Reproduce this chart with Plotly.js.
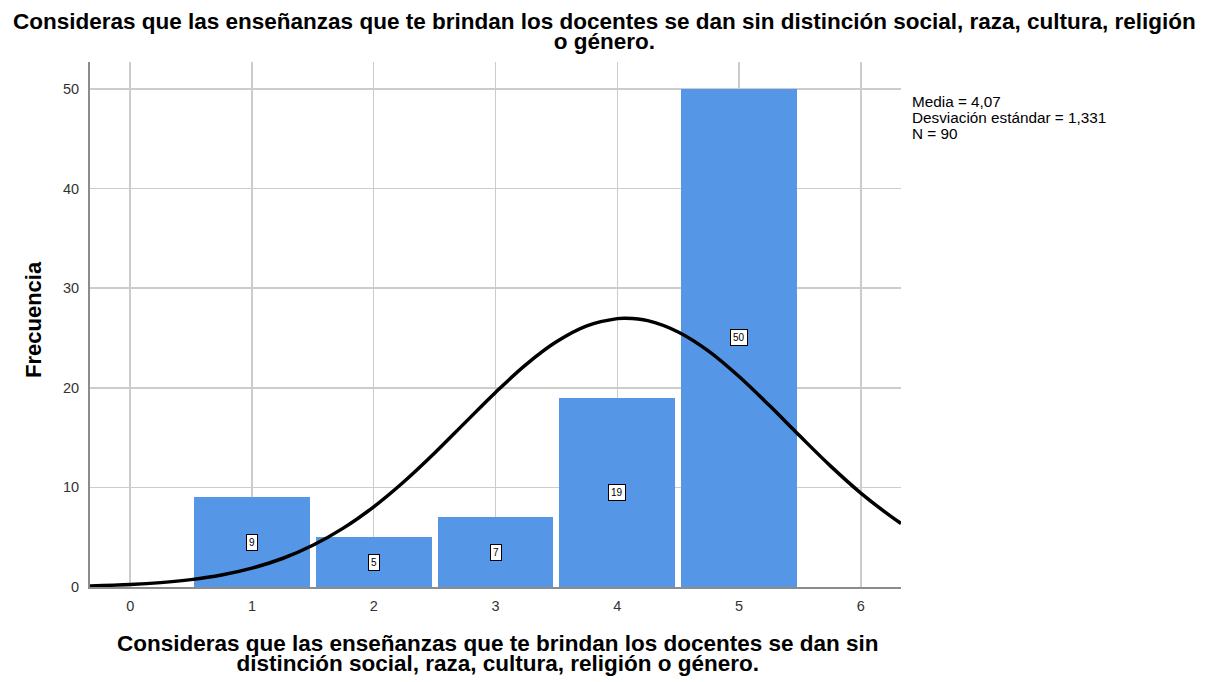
<!DOCTYPE html>
<html>
<head>
<meta charset="utf-8">
<script src="https://cdn.plot.ly/plotly-3.0.1.min.js"></script>
<style>html,body{margin:0;padding:0;background:#fff;}#chart{width:1209px;height:682px;}</style>
</head>
<body>
<div id="chart"></div>
<script>
// Histogram categories and frequencies
const categories = [1, 2, 3, 4, 5];
const frequencies = [9, 5, 7, 19, 50];
const barLabels = ["9", "5", "7", "19", "50"];

// Normal curve points
const curveX = [-0.33, 0, 0.25, 0.5, 0.75, 1, 1.25, 1.5, 1.75, 2, 2.25, 2.5, 2.75, 3, 3.25, 3.5, 3.75, 4, 4.07, 4.25, 4.5, 4.75, 5, 5.25, 5.5, 5.75, 6, 6.25, 6.33];
const curveY = [0.11, 0.25, 0.44, 0.74, 1.2, 1.89, 2.86, 4.19, 5.91, 8.05, 10.59, 13.45, 16.5, 19.53, 22.32, 24.61, 26.21, 26.94, 26.98, 26.74, 25.6, 23.68, 21.13, 18.21, 15.15, 12.16, 9.43, 7.06, 6.38];

const xTicks = [0, 1, 2, 3, 4, 5, 6];
const yTicks = [0, 10, 20, 30, 40, 50];
const statsLines = ["Media = 4,07", "Desviación estándar = 1,331", "N = 90"];

const titleLines = ["Consideras que las enseñanzas que te brindan los docentes se dan sin distinción social, raza, cultura, religión", "o género."];
const xTitleLines = ["Consideras que las enseñanzas que te brindan los docentes se dan sin", "distinción social, raza, cultura, religión o género."];
const yTitleText = "Frecuencia";

const font = "Liberation Sans, Arial, sans-serif";

// pixel helpers for annotation placement (plot area 90..901 x, 62..587 y)
const PL = 90, PR = 901, PT = 62, PB = 587;
const px = v => (v - PL) / (PR - PL);
const py = v => 1 - (v - PT) / (PB - PT);

const traces = [
  {
    type: "bar",
    x: categories,
    y: frequencies,
    width: 0.95,
    marker: {color: "#5596e6", line: {width: 0}},
    hoverinfo: "x+y"
  },
  {
    type: "scatter",
    mode: "lines",
    x: curveX,
    y: curveY,
    line: {color: "#000000", width: 3.5, shape: "spline"},
    hoverinfo: "skip"
  }
];

const annotations = categories.map((c, i) => ({
  x: c, y: frequencies[i] / 2, xref: "x", yref: "y",
  text: barLabels[i], showarrow: false,
  font: {family: font, size: 10, color: "#000"},
  bgcolor: "#ffffff", bordercolor: "#000000", borderwidth: 1, borderpad: 2
}));

const bold = {family: font, size: 22.5, color: "#000", weight: "bold"};

annotations.push({
  xref: "paper", yref: "paper", x: px(604), y: py(7),
  xanchor: "center", yanchor: "top", align: "center",
  text: titleLines.join("<br>"), showarrow: false, font: bold
});

annotations.push({
  xref: "paper", yref: "paper", x: px(497), y: py(629),
  xanchor: "center", yanchor: "top", align: "center",
  text: xTitleLines.join("<br>"), showarrow: false, font: bold
});

annotations.push({
  xref: "paper", yref: "paper", x: px(33), y: py(320),
  xanchor: "center", yanchor: "middle", textangle: -90,
  text: yTitleText, showarrow: false, font: {family: font, size: 22, color: "#000", weight: "bold"}
});

annotations.push({
  xref: "paper", yref: "paper", x: px(910), y: py(91),
  xanchor: "left", yanchor: "top", align: "left",
  text: statsLines.join("<br>"), showarrow: false,
  font: {family: font, size: 15.3, color: "#000"}
});

const layout = {
  width: 1209, height: 682,
  margin: {l: PL, r: 1209 - PR, t: PT, b: 682 - PB},
  paper_bgcolor: "#ffffff", plot_bgcolor: "#ffffff",
  showlegend: false,
  bargap: 0,
  xaxis: {
    range: [-0.33, 6.33],
    tickmode: "array", tickvals: xTicks, ticktext: xTicks.map(String),
    showgrid: true, gridcolor: "#cccccc", gridwidth: 1.5,
    zeroline: false,
    showline: true, linecolor: "#8c8c8c", linewidth: 1.5,
    ticks: "", ticklabelstandoff: 5,
    tickfont: {family: font, size: 14.5, color: "#333"}
  },
  yaxis: {
    range: [0, 52.7],
    tickmode: "array", tickvals: yTicks, ticktext: yTicks.map(String),
    showgrid: true, gridcolor: "#cccccc", gridwidth: 1.5,
    zeroline: false,
    showline: true, linecolor: "#8c8c8c", linewidth: 2,
    ticks: "", ticklabelstandoff: 6,
    tickfont: {family: font, size: 14.5, color: "#333"}
  },
  annotations: annotations
};

// tighter line spacing for multi-line texts (as in the reference)
function tightenLines() {
  document.querySelectorAll("#chart g.annotation text").forEach(t => {
    const lines = t.querySelectorAll("tspan.line");
    if (lines.length < 2) return;
    const fs = parseFloat(t.style.fontSize || t.getAttribute("font-size") || "12");
    const spacing = fs > 20 ? 20 : 16;
    lines.forEach((l, i) => l.setAttribute("dy", (i * spacing) + "px"));
  });
}

Plotly.newPlot("chart", traces, layout, {displayModeBar: false, staticPlot: true}).then(tightenLines);
</script>
</body>
</html>
